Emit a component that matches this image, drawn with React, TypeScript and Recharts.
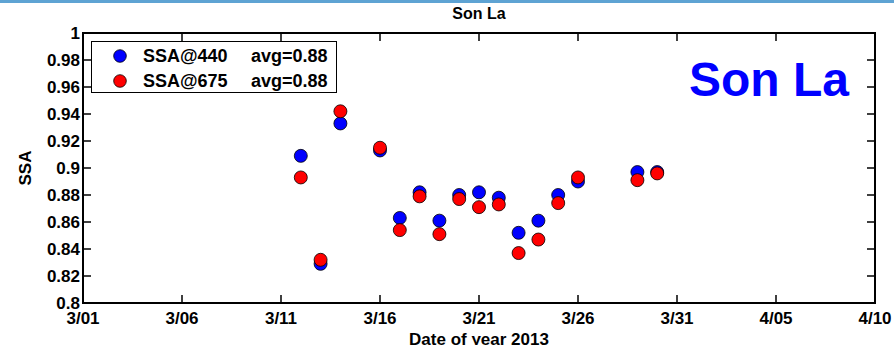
import { Legend, ReferenceArea, Scatter, ScatterChart, XAxis, YAxis } from "recharts"

// days since 3/01
const days = [11, 12, 13, 15, 16, 17, 18, 19, 20, 21, 22, 23, 24, 25, 28, 29]
const ssa440 = [0.909, 0.829, 0.933, 0.913, 0.863, 0.882, 0.861, 0.880, 0.882, 0.878, 0.852, 0.861, 0.880, 0.890, 0.897, 0.897]
const ssa675 = [0.893, 0.832, 0.942, 0.915, 0.854, 0.879, 0.851, 0.877, 0.871, 0.873, 0.837, 0.847, 0.874, 0.893, 0.891, 0.896]

const xTicks = [0, 5, 10, 15, 20, 25, 30, 35, 40]
const xTickLabels = ["3/01", "3/06", "3/11", "3/16", "3/21", "3/26", "3/31", "4/05", "4/10"]
const yTicks = [0.8, 0.82, 0.84, 0.86, 0.88, 0.9, 0.92, 0.94, 0.96, 0.98, 1]
const yTickLabels = ["0.8", "0.82", "0.84", "0.86", "0.88", "0.9", "0.92", "0.94", "0.96", "0.98", "1"]

const legendItems = [
  { name: "SSA@440", avg: "avg=0.88", color: "#0000ff" },
  { name: "SSA@675", avg: "avg=0.88", color: "#ff0000" },
]

const blue = days.map((d, i) => ({ day: d, ssa: ssa440[i] }))
const red = days.map((d, i) => ({ day: d, ssa: ssa675[i] }))

const W = 894
const H = 345
const BOX = { left: 83, right: 875, top: 33, bottom: 303 }
const FONT = "'Liberation Sans', Arial, Helvetica, sans-serif"
const TICK = 8

const XTick = ({ x, payload }: any) => {
  const i = xTicks.indexOf(payload.value)
  return (
    <g>
      <line x1={x} x2={x} y1={BOX.bottom} y2={BOX.bottom - TICK} stroke="#000" strokeWidth={1.5} />
      <line x1={x} x2={x} y1={BOX.top} y2={BOX.top + TICK} stroke="#000" strokeWidth={1.5} />
      <text x={x} y={BOX.bottom + 21} textAnchor="middle" fontFamily={FONT} fontWeight="bold" fontSize={17} fill="#000">
        {xTickLabels[i]}
      </text>
    </g>
  )
}

const YTick = ({ y, payload }: any) => {
  const i = yTicks.indexOf(payload.value)
  return (
    <g>
      <line x1={BOX.left} x2={BOX.left + TICK} y1={y} y2={y} stroke="#000" strokeWidth={1.5} />
      <line x1={BOX.right} x2={BOX.right - TICK} y1={y} y2={y} stroke="#000" strokeWidth={1.5} />
      <text x={BOX.left - 3} y={y + 6} textAnchor="end" fontFamily={FONT} fontWeight="bold" fontSize={17} fill="#000">
        {yTickLabels[i]}
      </text>
    </g>
  )
}

const YLabel = () => (
  <text
    x={0}
    y={0}
    transform={`translate(31, ${(BOX.top + BOX.bottom) / 2}) rotate(-90)`}
    textAnchor="middle"
    fontFamily={FONT}
    fontWeight="bold"
    fontSize={17}
    fill="#000"
  >
    SSA
  </text>
)

// sits on the bottom edge, lower half is cropped
const XLabel = () => (
  <text
    x={(BOX.left + BOX.right) / 2}
    y={345}
    textAnchor="middle"
    fontFamily={FONT}
    fontWeight="bold"
    fontSize={17}
    fill="#000"
  >
    Date of year 2013
  </text>
)

const Dot = ({ cx, cy, fill }: any) => (
  <circle cx={cx} cy={cy} r={6.5} fill={fill} stroke="#000" strokeWidth={0.8} />
)

const LegendBox = () => (
  <div
    style={{
      position: "absolute",
      left: BOX.left + 8,
      top: 41,
      width: 244,
      height: 50,
      border: "1.5px solid #000",
      background: "#fff",
      fontFamily: FONT,
      fontWeight: "bold",
      fontSize: 18,
    }}
  >
    {legendItems.map((it, i) => (
      <div key={it.name} style={{ position: "absolute", top: 3 + i * 25, left: 0, height: 22, width: 244 }}>
        <svg width={14} height={14} style={{ position: "absolute", left: 21, top: 4 }}>
          <circle cx={7} cy={7} r={6.3} fill={it.color} stroke="#000" strokeWidth={0.8} />
        </svg>
        <span style={{ position: "absolute", left: 51, top: 0, whiteSpace: "nowrap", lineHeight: "22px" }}>{it.name}</span>
        <span style={{ position: "absolute", left: 159, top: 0, whiteSpace: "nowrap", lineHeight: "22px" }}>{it.avg}</span>
      </div>
    ))}
  </div>
)

export default function App() {
  return (
    <div style={{ position: "absolute", left: 0, top: 0, width: W, height: H, background: "#fff", overflow: "hidden" }}>
      <div style={{ position: "absolute", left: 0, top: 0, width: W, height: 3, background: "#5ea3d3" }} />
      <div
        style={{
          position: "absolute",
          left: BOX.left,
          width: BOX.right - BOX.left,
          top: 5,
          textAlign: "center",
          fontFamily: FONT,
          fontWeight: "bold",
          fontSize: 16,
        }}
      >
        Son La
      </div>
      <ScatterChart
        width={W}
        height={H}
        margin={{ top: BOX.top, right: W - BOX.right, bottom: 12, left: 23 }}
      >
        <XAxis
          type="number"
          dataKey="day"
          domain={[0, 40]}
          ticks={xTicks}
          height={H - BOX.bottom - 12}
          tick={<XTick />}
          tickLine={false}
          axisLine={false}
          interval={0}
          label={<XLabel />}
        />
        <YAxis
          type="number"
          dataKey="ssa"
          domain={[0.8, 1]}
          ticks={yTicks}
          width={BOX.left - 23}
          tick={<YTick />}
          tickLine={false}
          axisLine={false}
          interval={0}
          label={<YLabel />}
        />
        <ReferenceArea x1={0} x2={40} y1={0.8} y2={1} fill="none" stroke="#000" strokeWidth={2} ifOverflow="visible" />
        <Legend content={() => null} />
        <Scatter data={blue} fill="#0000ff" shape={<Dot />} isAnimationActive={false} />
        <Scatter data={red} fill="#ff0000" shape={<Dot />} isAnimationActive={false} />
      </ScatterChart>
      <LegendBox />
      <div
        style={{
          position: "absolute",
          left: 689,
          top: 52,
          fontFamily: FONT,
          fontWeight: "bold",
          fontSize: 48,
          color: "#0000ff",
          whiteSpace: "nowrap",
        }}
      >
        Son La
      </div>
    </div>
  )
}
